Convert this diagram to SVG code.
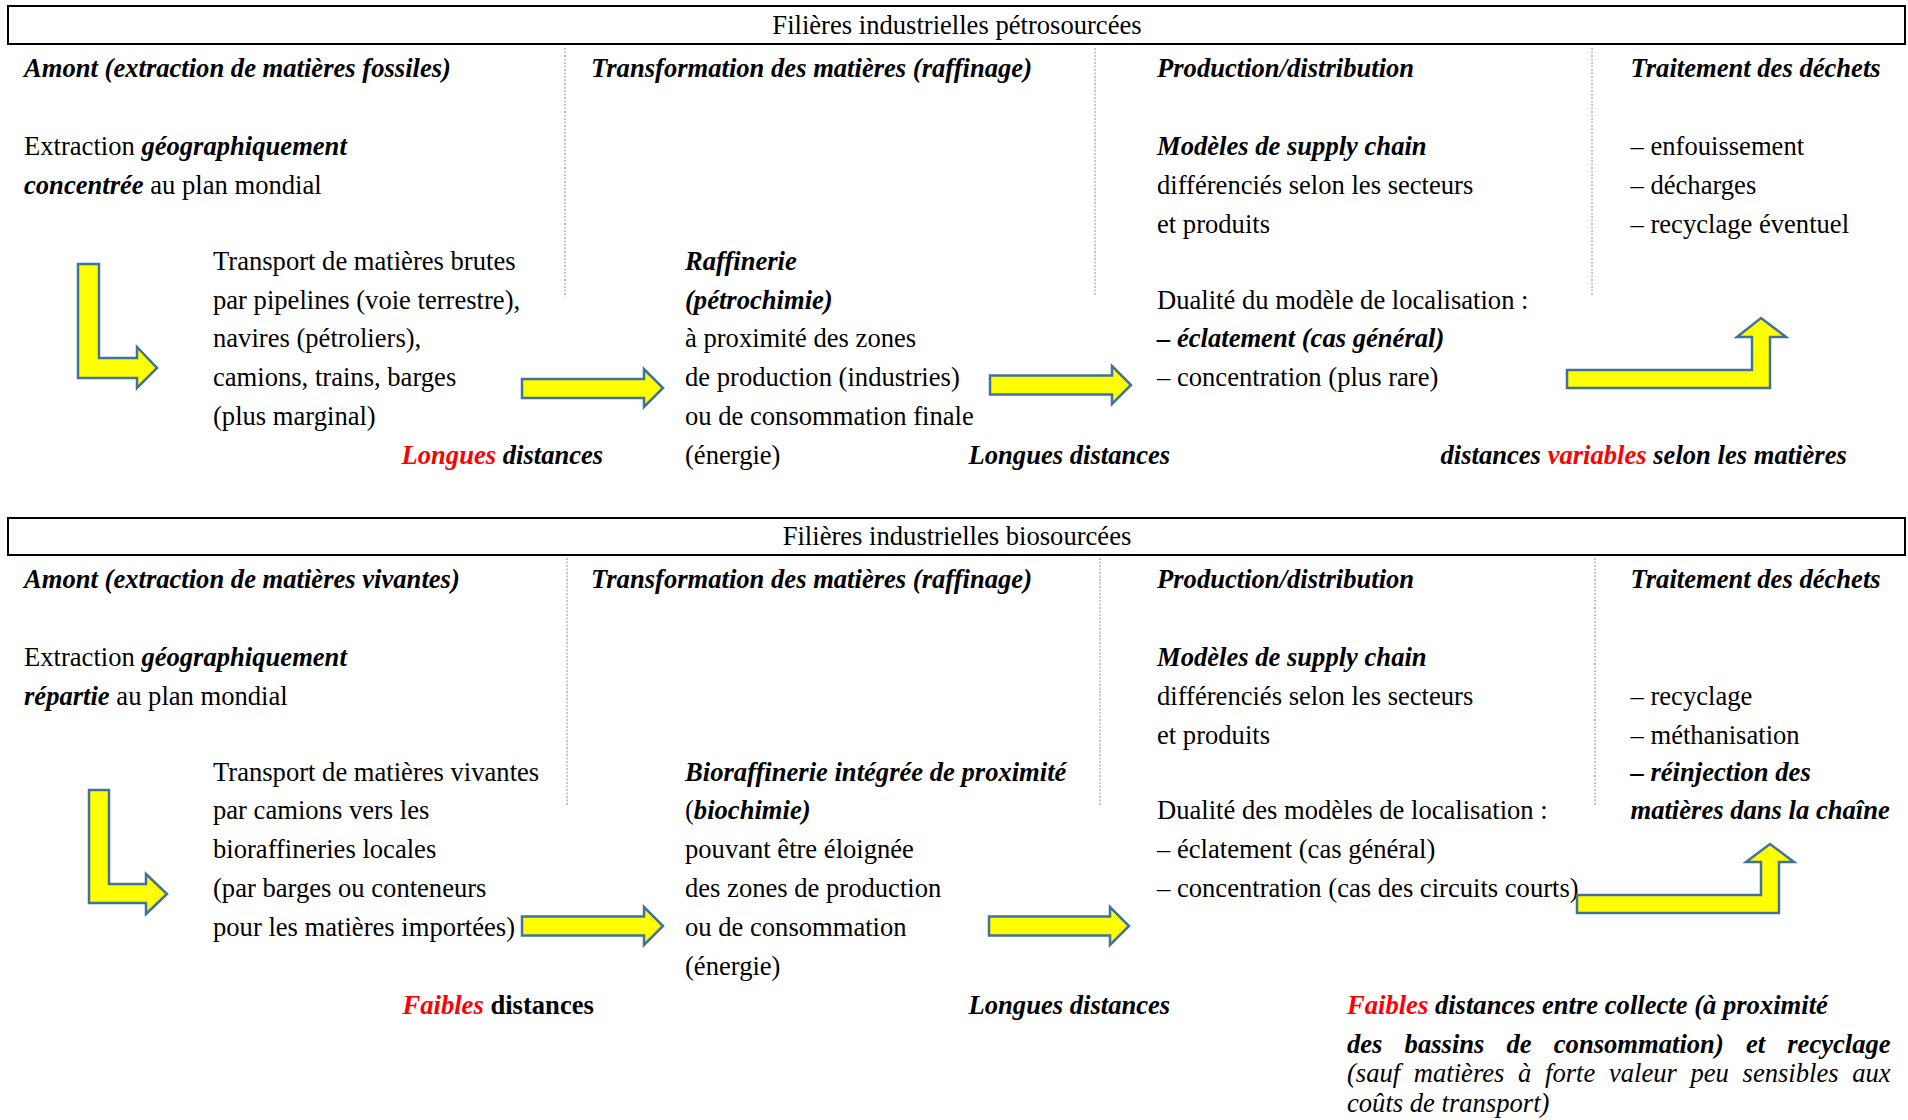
<svg xmlns="http://www.w3.org/2000/svg" width="1908" height="1120" viewBox="0 0 1908 1120">
<style>
text{font-family:"Liberation Serif","Times New Roman",serif;font-size:26.6px;fill:#000}
.bi{font-weight:bold;font-style:italic}
.b{font-weight:bold}
.i{font-style:italic}
.red{fill:#FF0000}
.ttl{text-anchor:middle}
.band{fill:#fff;stroke:#000;stroke-width:2}
.sep{stroke:#8c8c8c;stroke-width:1;stroke-dasharray:2 1.5;fill:none}
.arr{fill:#FFFF00;stroke:#41719C;stroke-width:2.5;stroke-linejoin:miter}
</style>
<rect width="1908" height="1120" fill="#fff"/>

<!-- ===== Pétrosourcées ===== -->
<g id="band-petro">
  <rect class="band" x="8" y="6" width="1897" height="38"/>
  <text class="ttl" x="957" y="34">Filières industrielles pétrosourcées</text>
</g>
<g id="separators-petro">
  <line class="sep" x1="565" y1="48" x2="565" y2="297"/>
  <line class="sep" x1="1095" y1="48" x2="1095" y2="295"/>
  <line class="sep" x1="1592" y1="48" x2="1592" y2="295"/>
</g>
<g id="p-amont">
  <text class="bi" x="24" y="76.5">Amont (extraction de matières fossiles)</text>
  <text x="24" y="154.5">Extraction <tspan class="bi">géographiquement</tspan></text>
  <text x="24" y="193.5"><tspan class="bi">concentrée</tspan> au plan mondial</text>
</g>
<g id="p-transport">
  <text x="213" y="270">Transport de matières brutes</text>
  <text x="213" y="308.5">par pipelines (voie terrestre),</text>
  <text x="213" y="347">navires (pétroliers),</text>
  <text x="213" y="386">camions, trains, barges</text>
  <text x="213" y="425">(plus marginal)</text>
  <text class="bi" x="401.5" y="463.5"><tspan class="red">Longues</tspan> distances</text>
</g>
<g id="p-transformation">
  <text class="bi" x="591" y="76.5">Transformation des matières (raffinage)</text>
</g>
<g id="p-raffinerie">
  <text class="bi" x="685" y="270">Raffinerie</text>
  <text class="bi" x="685" y="308.5">(pétrochimie)</text>
  <text x="685" y="347">à proximité des zones</text>
  <text x="685" y="386">de production (industries)</text>
  <text x="685" y="425">ou de consommation finale</text>
  <text x="685" y="463.5">(énergie)</text>
  <text class="bi" x="968.5" y="463.5">Longues distances</text>
</g>
<g id="p-production">
  <text class="bi" x="1157" y="76.5">Production/distribution</text>
  <text class="bi" x="1157" y="154.5">Modèles de supply chain</text>
  <text x="1157" y="193.5">différenciés selon les secteurs</text>
  <text x="1157" y="232.5">et produits</text>
  <text x="1157" y="308.5">Dualité du modèle de localisation :</text>
  <text class="bi" x="1157" y="347">– éclatement (cas général)</text>
  <text x="1157" y="386">– concentration (plus rare)</text>
</g>
<g id="p-dechets">
  <text class="bi" x="1630.5" y="76.5">Traitement des déchets</text>
  <text x="1630.5" y="154.5">– enfouissement</text>
  <text x="1630.5" y="193.5">– décharges</text>
  <text x="1630.5" y="232.5">– recyclage éventuel</text>
  <text class="bi" x="1440.5" y="463.5">distances <tspan class="red">variables</tspan> selon les matières</text>
</g>

<!-- ===== Biosourcées ===== -->
<g id="band-bio">
  <rect class="band" x="8" y="518" width="1897" height="37"/>
  <text class="ttl" x="957" y="545">Filières industrielles biosourcées</text>
</g>
<g id="separators-bio">
  <line class="sep" x1="567" y1="558" x2="567" y2="806"/>
  <line class="sep" x1="1100" y1="558" x2="1100" y2="806"/>
  <line class="sep" x1="1595" y1="558" x2="1595" y2="806"/>
</g>
<g id="b-amont">
  <text class="bi" x="24" y="588">Amont (extraction de matières vivantes)</text>
  <text x="24" y="665.5">Extraction <tspan class="bi">géographiquement</tspan></text>
  <text x="24" y="704.5"><tspan class="bi">répartie</tspan> au plan mondial</text>
</g>
<g id="b-transport">
  <text x="213" y="781">Transport de matières vivantes</text>
  <text x="213" y="819">par camions vers les</text>
  <text x="213" y="858">bioraffineries locales</text>
  <text x="213" y="897">(par barges ou conteneurs</text>
  <text x="213" y="936">pour les matières importées)</text>
  <text x="402.5" y="1013.5"><tspan class="bi red">Faibles</tspan> <tspan class="b">distances</tspan></text>
</g>
<g id="b-transformation">
  <text class="bi" x="591" y="588">Transformation des matières (raffinage)</text>
</g>
<g id="b-bioraffinerie">
  <text class="bi" x="685" y="781">Bioraffinerie intégrée de proximité</text>
  <text x="685" y="819">(<tspan class="bi">biochimie)</tspan></text>
  <text x="685" y="858">pouvant être éloignée</text>
  <text x="685" y="897">des zones de production</text>
  <text x="685" y="936">ou de consommation</text>
  <text x="685" y="974.5">(énergie)</text>
  <text class="bi" x="968.5" y="1013.5">Longues distances</text>
</g>
<g id="b-production">
  <text class="bi" x="1157" y="588">Production/distribution</text>
  <text class="bi" x="1157" y="665.5">Modèles de supply chain</text>
  <text x="1157" y="704.5">différenciés selon les secteurs</text>
  <text x="1157" y="743.5">et produits</text>
  <text x="1157" y="819">Dualité des modèles de localisation :</text>
  <text x="1157" y="858">– éclatement (cas général)</text>
  <text x="1157" y="897">– concentration (cas des circuits courts)</text>
</g>
<g id="b-dechets">
  <text class="bi" x="1630.5" y="588">Traitement des déchets</text>
  <text x="1630.5" y="704.5">– recyclage</text>
  <text x="1630.5" y="743.5">– méthanisation</text>
  <text class="bi" x="1630.5" y="781">– réinjection des</text>
  <text class="bi" x="1630.5" y="819">matières dans la chaîne</text>
  <text class="bi" x="1347" y="1013.5"><tspan class="red">Faibles</tspan> distances entre collecte (à proximité</text>
  <text class="bi" x="1347" y="1052.5" word-spacing="15.5">des bassins de consommation) et recyclage</text>
  <text class="i" x="1347" y="1082" word-spacing="7">(sauf matières à forte valeur peu sensibles aux</text>
  <text class="i" x="1347" y="1112">coûts de transport)</text>
</g>

<!-- ===== Connectors (block arrows) ===== -->
<g id="connectors">
  <polygon class="arr" points="78,264 99,264 99,358 137,358 137,347 157,368 137,388 137,378 78,378"/>
  <polygon class="arr" points="522,379 644,379 644,369 663,388 644,407 644,398 522,398"/>
  <polygon class="arr" points="990,375.5 1112,375.5 1112,366 1131,385 1112,404 1112,394.5 990,394.5"/>
  <polygon class="arr" points="1567,370 1752,370 1752,337 1737,337 1761,318 1786,337 1770,337 1770,388 1567,388"/>

  <polygon class="arr" points="89,790 109,790 109,884 146,884 146,874 167,894 146,914 146,903 89,903"/>
  <polygon class="arr" points="522,916.5 644,916.5 644,907 663,926 644,945 644,935.5 522,935.5"/>
  <polygon class="arr" points="989,916.5 1110,916.5 1110,907 1129,926 1110,945 1110,935.5 989,935.5"/>
  <polygon class="arr" points="1577,895 1761,895 1761,862 1746,862 1770,844 1794,862 1779,862 1779,913 1577,913"/>
</g>
</svg>
